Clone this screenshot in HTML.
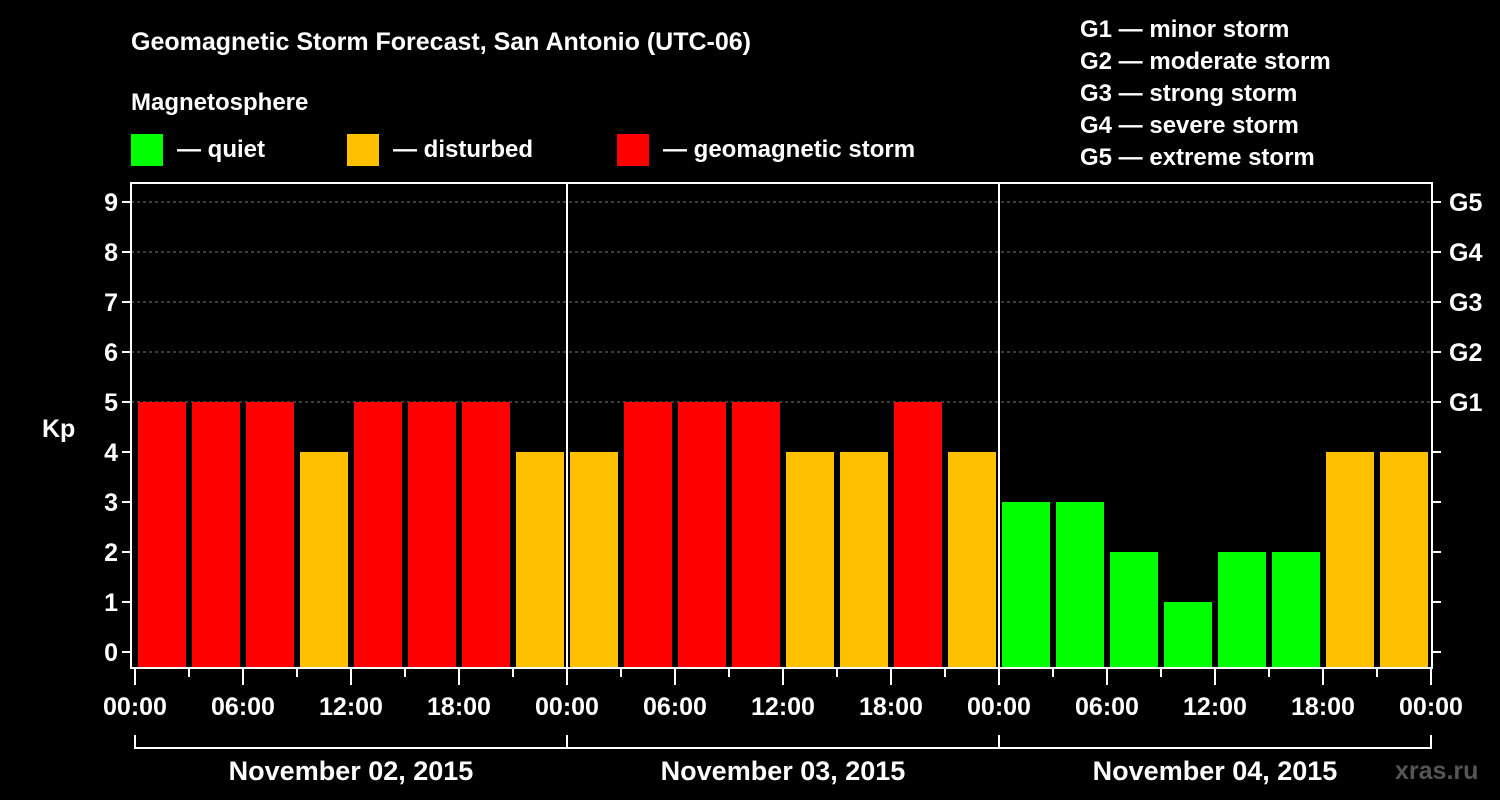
<!DOCTYPE html>
<html><head><meta charset="utf-8"><style>
body{margin:0;background:#000;}
svg{display:block;font-family:"Liberation Sans",Arial,sans-serif;font-weight:bold;}
</style></head><body>
<svg id="c" width="1500" height="800" viewBox="0 0 1500 800">
<rect width="1500" height="800" fill="#000"/>
<text x="131" y="50" fill="#fff" font-size="25">Geomagnetic Storm Forecast, San Antonio (UTC-06)</text>
<text x="131" y="110" fill="#fff" font-size="24">Magnetosphere</text>
<g>
<rect x="131" y="134" width="32" height="32" fill="#00ff00"/>
<text x="177" y="157" fill="#fff" font-size="24">— quiet</text>
<rect x="347" y="134" width="32" height="32" fill="#ffc000"/>
<text x="393" y="157" fill="#fff" font-size="24">— disturbed</text>
<rect x="617" y="134" width="32" height="32" fill="#ff0000"/>
<text x="663" y="157" fill="#fff" font-size="24">— geomagnetic storm</text>
</g>
<g fill="#fff" font-size="24">
<text x="1080" y="37">G1 — minor storm</text>
<text x="1080" y="69">G2 — moderate storm</text>
<text x="1080" y="101">G3 — strong storm</text>
<text x="1080" y="133">G4 — severe storm</text>
<text x="1080" y="165">G5 — extreme storm</text>
</g>
<text x="42" y="437" fill="#fff" font-size="25">Kp</text>
<text x="1395" y="779" fill="#555" font-size="25">xras.ru</text>
<g id="plot"></g>
</svg>
<script>
const kpValues=[5,5,5,4,5,5,5,4, 4,5,5,5,4,4,5,4, 3,3,2,1,2,2,4,4];
const dayLabels=["November 02, 2015","November 03, 2015","November 04, 2015"];
const hourLabels=["00:00","06:00","12:00","18:00"];
const yTicks=[0,1,2,3,4,5,6,7,8,9];
const gLabels=["G1","G2","G3","G4","G5"];
const NS="http://www.w3.org/2000/svg";
const g=document.getElementById('plot');
const X0=135,X1=1431,L=131,R=1432,T=183,B=668;
const slot=(X1-X0)/kpValues.length;
const xs=i=>X0+i*slot;
const ys=v=>652-v*50;
function mk(t,a){const e=document.createElementNS(NS,t);for(const k in a)e.setAttribute(k,a[k]);g.appendChild(e);return e;}
function col(v){return v>=5?"#ff0000":v>=4?"#ffc000":"#00ff00";}
// grid
yTicks.forEach(v=>{if(v>=5){const l=mk('line',{x1:L,x2:R,y1:ys(v),y2:ys(v),stroke:'#777','stroke-dasharray':'3,3'});

}});
// bars
kpValues.forEach((v,i)=>{const r=mk('rect',{x:xs(i)+3,y:ys(v),width:slot-6,height:B-ys(v),fill:col(v)});

});
// frame
const fr=mk('rect',{x:L,y:T,width:R-L,height:B-T,fill:'none',stroke:'#fff','stroke-width':2});


// day separators
for(let d=1;d<dayLabels.length;d++){const x=X0+d*8*slot;const l=mk('line',{x1:x,x2:x,y1:T,y2:B,stroke:'#fff','stroke-width':2});

}
// y ticks
yTicks.forEach(v=>{const y=ys(v);
mk('line',{x1:L-9,x2:L,y1:y,y2:y,stroke:'#fff','stroke-width':2});
mk('line',{x1:R,x2:R+9,y1:y,y2:y,stroke:'#fff','stroke-width':2});
const t=mk('text',{x:L-13,y:y+9,fill:'#fff','font-size':25,'text-anchor':'end'});t.textContent=v;


if(v>=5){const gt=mk('text',{x:1449,y:y+9,fill:'#fff','font-size':25});gt.textContent=gLabels[v-5];

}});
// x ticks
for(let i=0;i<=kpValues.length;i++){const x=xs(i);const major=i%2===0;
mk('line',{x1:x,x2:x,y1:B,y2:major?B+17:B+9,stroke:'#fff','stroke-width':2});
if(major){const t=mk('text',{x:x,y:715,fill:'#fff','font-size':25,'text-anchor':'middle'});
t.textContent=hourLabels[(i/2)%4];

}}
// day brackets
dayLabels.forEach((d,k)=>{const a=X0+k*8*slot,b=X0+(k+1)*8*slot;
mk('path',{d:`M${a} 735V748H${b}V735`,fill:'none',stroke:'#fff','stroke-width':2});
const t=mk('text',{x:(a+b)/2,y:780,fill:'#fff','font-size':27,'text-anchor':'middle'});t.textContent=d;

});
</script>
</body></html>
